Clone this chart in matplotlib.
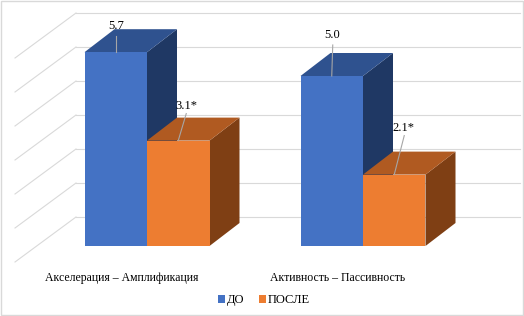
import matplotlib.pyplot as plt
from matplotlib.patches import Polygon, Patch

categories = ['Акселерация – Амплификация', 'Активность – Пассивность']
series_names = ['ДО', 'ПОСЛЕ']
values_do = [5.7, 5.0]
values_posle = [3.1, 2.1]
labels_do = ['5.7', '5.0']
labels_posle = ['3.1*', '2.1*']
grid_levels = [0, 1, 2, 3, 4, 5, 6]

# colours: front, top, side for each series
faces = {
    'ДО': ('#4472C4', '#2F528F', '#1F3864'),
    'ПОСЛЕ': ('#ED7D31', '#B05A21', '#7F3F14'),
}

plt.rcParams['font.family'] = ['Liberation Serif', 'DejaVu Serif']

fig = plt.figure(figsize=(5.24, 3.16), dpi=100)
ax = fig.add_axes([0, 0, 1, 1])
# one x unit = 216 px between groups, one y unit = 34 px
ax.set_xlim(-147 / 216, (524 - 147) / 216)
ax.set_ylim((246 - 316) / 34, 246 / 34)
ax.axis('off')

bar_w = 62.5 / 216
depth_x = 30 / 216
depth_y = 23 / 34

# walls: back gridlines and left side wall diagonals
wall_back_x = (76 - 147) / 216
wall_right_x = (520 - 147) / 216
wall_front_x = (15 - 147) / 216
wall_y0 = 29 / 34
wall_drop = 45 / 34
for k in grid_levels:
    y = k + wall_y0
    ax.plot([wall_back_x, wall_right_x], [y, y], color='#d9d9d9', lw=0.8, zorder=1)
    ax.plot([wall_back_x, wall_front_x], [y, y - wall_drop], color='#d9d9d9', lw=0.8, zorder=1)


def draw_bar(x0, h, cols):
    front, top, side = cols
    x1 = x0 + bar_w
    ax.add_patch(Polygon([(x1, 0), (x1 + depth_x, depth_y), (x1 + depth_x, h + depth_y), (x1, h)],
                         closed=True, facecolor=side, edgecolor='none', zorder=2))
    ax.add_patch(Polygon([(x0, h), (x0 + depth_x, h + depth_y), (x1 + depth_x, h + depth_y), (x1, h)],
                         closed=True, facecolor=top, edgecolor='none', zorder=2))
    ax.add_patch(Polygon([(x0, 0), (x0, h), (x1, h), (x1, 0)],
                         closed=True, facecolor=front, edgecolor='none', zorder=2))


# label offsets (px) from front-top centre: line top, text centre
lab_off_do = [((0, 16), (0, 26)), ((1, 31), (0, 41))]
lab_off_posle = [((8, 27), (8, 35)), ((10, 39), (9, 47))]


def draw_label(xc, h, text, off):
    (lx, ly), (tx, ty) = off
    ax.plot([xc, xc + lx / 216], [h, h + ly / 34], color='#a6a6a6', lw=0.8, zorder=3)
    ax.text(xc + tx / 216, h + ty / 34, text, ha='center', va='center', fontsize=9,
            color='black', zorder=4)


for i, cat in enumerate(categories):
    xa = i - bar_w
    draw_bar(xa, values_do[i], faces['ДО'])
    draw_bar(i, values_posle[i], faces['ПОСЛЕ'])
    draw_label(xa + bar_w / 2, values_do[i], labels_do[i], lab_off_do[i])
    draw_label(i + bar_w / 2, values_posle[i], labels_posle[i], lab_off_posle[i])
    ax.text(i - 25 / 216, (246 - 278) / 34, cat, ha='center', va='center', fontsize=8.5, color='black')

handles = [Patch(facecolor=faces[s][0], edgecolor='none') for s in series_names]
fig.legend(handles, series_names, loc='center', bbox_to_anchor=(264 / 524, 1 - 300 / 316),
           ncol=2, frameon=False, fontsize=9, handlelength=0.6, handleheight=0.6,
           handletextpad=0.15, columnspacing=1.1)

fig.patches.append(plt.Rectangle((0.001, 0.002), 0.997, 0.995, transform=fig.transFigure,
                                 fill=False, edgecolor='#d9d9d9', lw=1))

fig.savefig('out.png', dpi=100)
